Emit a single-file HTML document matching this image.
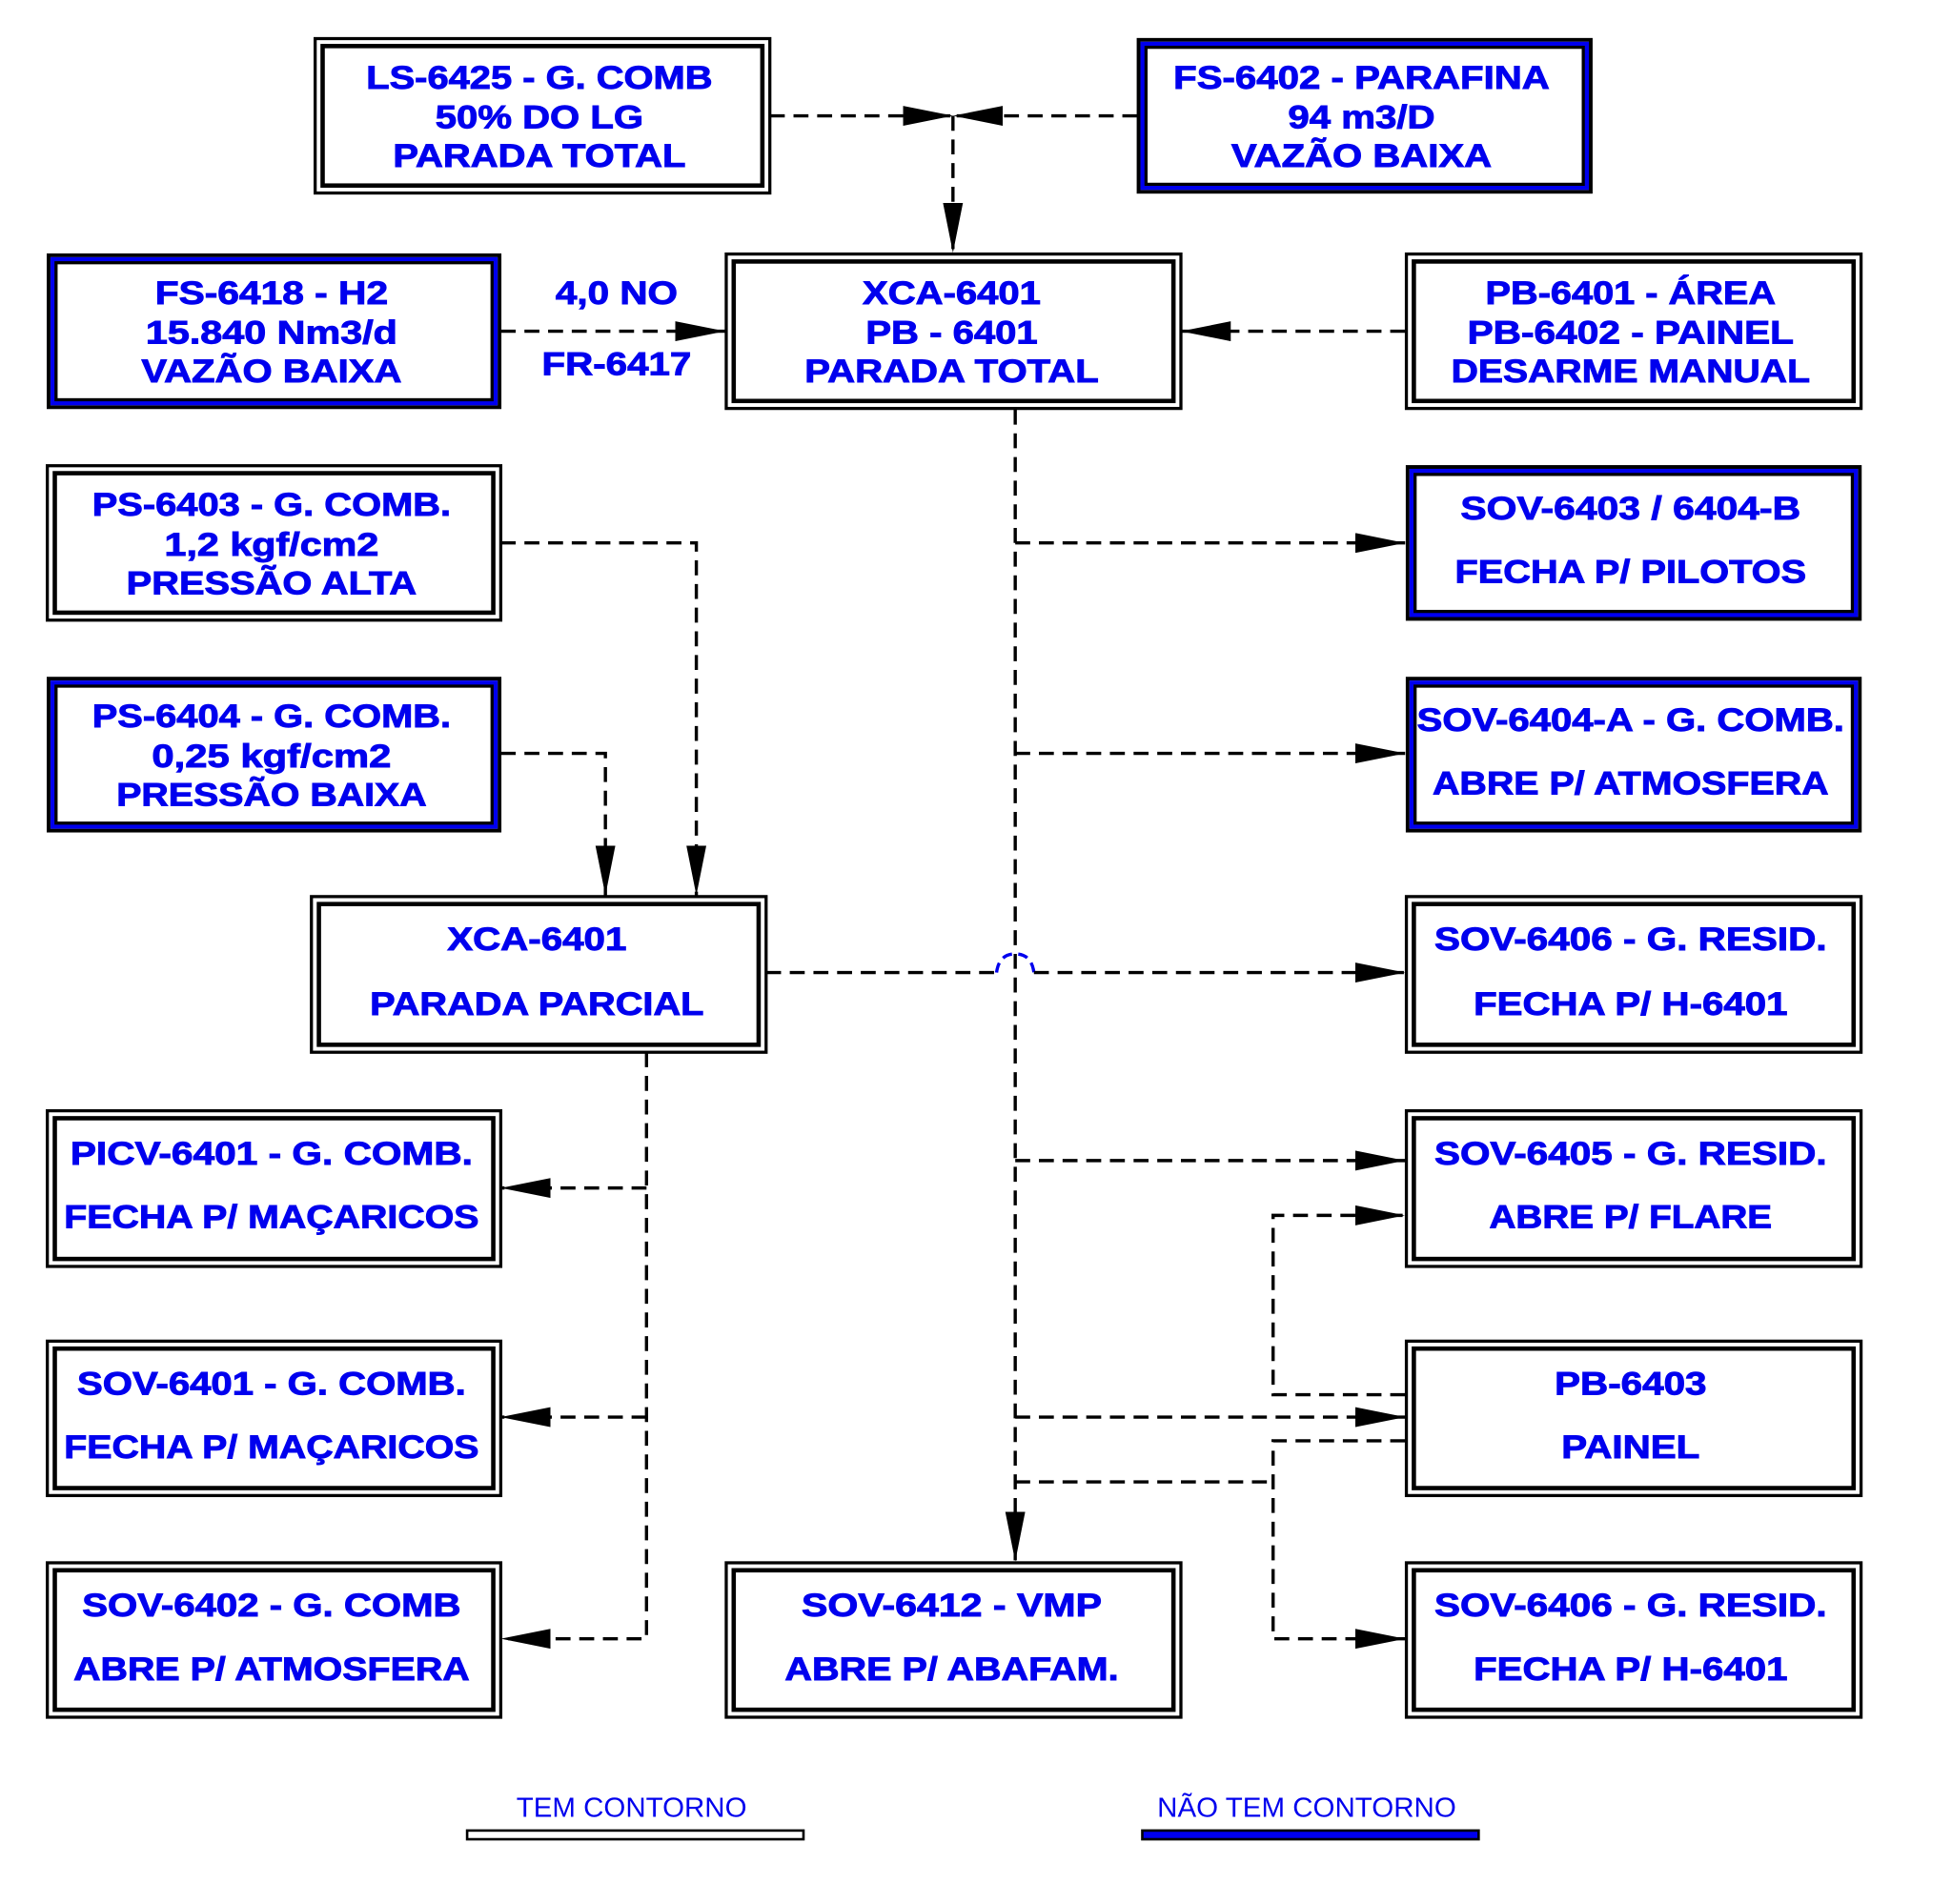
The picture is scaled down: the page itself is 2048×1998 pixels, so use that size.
<!DOCTYPE html>
<html><head><meta charset="utf-8"><style>
html,body{margin:0;padding:0;background:#fff;}
svg{display:block;}
text{font-family:"Liberation Sans",Arial,sans-serif;font-weight:bold;fill:#0000ee;stroke:#0000ee;stroke-width:0.7;font-size:26px;text-anchor:middle;}
.d{stroke:#000;stroke-width:2.6;fill:none;stroke-dasharray:12 7;}
</style></head><body>
<svg width="2048" height="1998" viewBox="0 0 1567 1529" preserveAspectRatio="none" xmlns="http://www.w3.org/2000/svg">
<defs>
<marker id="a" markerWidth="40" markerHeight="16" refX="40" refY="8" orient="auto" markerUnits="userSpaceOnUse"><path d="M0,0 L40,8 L0,16 Z" fill="#000"/></marker>
</defs>
<rect width="1567" height="1529" fill="#fff"/>
<g id="boxes" fill="none">
<g stroke="#000">
<rect x="253" y="31" width="365" height="124" stroke-width="2.5"/><rect x="259" y="37" width="353" height="112" stroke-width="3.5"/>
<rect x="583" y="204" width="365" height="124" stroke-width="2.5"/><rect x="589" y="210" width="353" height="112" stroke-width="3.5"/>
<rect x="1129" y="204" width="365" height="124" stroke-width="2.5"/><rect x="1135" y="210" width="353" height="112" stroke-width="3.5"/>
<rect x="38" y="374" width="364" height="124" stroke-width="2.5"/><rect x="44" y="380" width="352" height="112" stroke-width="3.5"/>
<rect x="250" y="720" width="365" height="125" stroke-width="2.5"/><rect x="256" y="726" width="353" height="113" stroke-width="3.5"/>
<rect x="1129" y="720" width="365" height="125" stroke-width="2.5"/><rect x="1135" y="726" width="353" height="113" stroke-width="3.5"/>
<rect x="38" y="892" width="364" height="125" stroke-width="2.5"/><rect x="44" y="898" width="352" height="113" stroke-width="3.5"/>
<rect x="1129" y="892" width="365" height="125" stroke-width="2.5"/><rect x="1135" y="898" width="353" height="113" stroke-width="3.5"/>
<rect x="38" y="1077" width="364" height="124" stroke-width="2.5"/><rect x="44" y="1083" width="352" height="112" stroke-width="3.5"/>
<rect x="1129" y="1077" width="365" height="124" stroke-width="2.5"/><rect x="1135" y="1083" width="353" height="112" stroke-width="3.5"/>
<rect x="38" y="1255" width="364" height="124" stroke-width="2.5"/><rect x="44" y="1261" width="352" height="112" stroke-width="3.5"/>
<rect x="583" y="1255" width="365" height="124" stroke-width="2.5"/><rect x="589" y="1261" width="353" height="112" stroke-width="3.5"/>
<rect x="1129" y="1255" width="365" height="124" stroke-width="2.5"/><rect x="1135" y="1261" width="353" height="112" stroke-width="3.5"/>
</g>
<g>
<rect x="914" y="32" width="363" height="122" stroke="#000" stroke-width="3"/><rect x="917.5" y="35.5" width="356" height="115" stroke="#0000ee" stroke-width="4"/><rect x="920" y="38" width="351" height="110" stroke="#000" stroke-width="2.5"/>
<rect x="39" y="205" width="362" height="122" stroke="#000" stroke-width="3"/><rect x="42.5" y="208.5" width="355" height="115" stroke="#0000ee" stroke-width="4"/><rect x="45" y="211" width="350" height="110" stroke="#000" stroke-width="2.5"/>
<rect x="1130" y="375" width="363" height="122" stroke="#000" stroke-width="3"/><rect x="1133.5" y="378.5" width="356" height="115" stroke="#0000ee" stroke-width="4"/><rect x="1136" y="381" width="351" height="110" stroke="#000" stroke-width="2.5"/>
<rect x="39" y="545" width="362" height="122" stroke="#000" stroke-width="3"/><rect x="42.5" y="548.5" width="355" height="115" stroke="#0000ee" stroke-width="4"/><rect x="45" y="551" width="350" height="110" stroke="#000" stroke-width="2.5"/>
<rect x="1130" y="545" width="363" height="122" stroke="#000" stroke-width="3"/><rect x="1133.5" y="548.5" width="356" height="115" stroke="#0000ee" stroke-width="4"/><rect x="1136" y="551" width="351" height="110" stroke="#000" stroke-width="2.5"/>
</g>
</g>
<g>
<text x="433" y="71" textLength="278" lengthAdjust="spacingAndGlyphs">LS-6425 - G. COMB</text>
<text x="433" y="103" textLength="167" lengthAdjust="spacingAndGlyphs">50% DO LG</text>
<text x="433" y="134" textLength="235" lengthAdjust="spacingAndGlyphs">PARADA TOTAL</text>
<text x="1093" y="71" textLength="302" lengthAdjust="spacingAndGlyphs">FS-6402 - PARAFINA</text>
<text x="1093" y="103" textLength="118" lengthAdjust="spacingAndGlyphs">94 m3/D</text>
<text x="1093" y="134" textLength="209" lengthAdjust="spacingAndGlyphs">VAZÃO BAIXA</text>
<text x="218" y="244" textLength="187" lengthAdjust="spacingAndGlyphs">FS-6418 - H2</text>
<text x="218" y="276" textLength="202" lengthAdjust="spacingAndGlyphs">15.840 Nm3/d</text>
<text x="218" y="307" textLength="209" lengthAdjust="spacingAndGlyphs">VAZÃO BAIXA</text>
<text x="495" y="244" textLength="98" lengthAdjust="spacingAndGlyphs">4,0 NO</text>
<text x="495" y="301" textLength="120" lengthAdjust="spacingAndGlyphs">FR-6417</text>
<text x="764" y="244" textLength="143" lengthAdjust="spacingAndGlyphs">XCA-6401</text>
<text x="764" y="276" textLength="138" lengthAdjust="spacingAndGlyphs">PB - 6401</text>
<text x="764" y="307" textLength="236" lengthAdjust="spacingAndGlyphs">PARADA TOTAL</text>
<text x="1309" y="244" textLength="233" lengthAdjust="spacingAndGlyphs">PB-6401 - ÁREA</text>
<text x="1309" y="276" textLength="262" lengthAdjust="spacingAndGlyphs">PB-6402 - PAINEL</text>
<text x="1309" y="307" textLength="288" lengthAdjust="spacingAndGlyphs">DESARME MANUAL</text>
<text x="218" y="414" textLength="288" lengthAdjust="spacingAndGlyphs">PS-6403 - G. COMB.</text>
<text x="218" y="446" textLength="172" lengthAdjust="spacingAndGlyphs">1,2 kgf/cm2</text>
<text x="218" y="477" textLength="233" lengthAdjust="spacingAndGlyphs">PRESSÃO ALTA</text>
<text x="1309" y="417" textLength="273" lengthAdjust="spacingAndGlyphs">SOV-6403 / 6404-B</text>
<text x="1309" y="468" textLength="282" lengthAdjust="spacingAndGlyphs">FECHA P/ PILOTOS</text>
<text x="218" y="584" textLength="288" lengthAdjust="spacingAndGlyphs">PS-6404 - G. COMB.</text>
<text x="218" y="616" textLength="192" lengthAdjust="spacingAndGlyphs">0,25 kgf/cm2</text>
<text x="218" y="647" textLength="249" lengthAdjust="spacingAndGlyphs">PRESSÃO BAIXA</text>
<text x="1309" y="587" textLength="343" lengthAdjust="spacingAndGlyphs">SOV-6404-A - G. COMB.</text>
<text x="1309" y="638" textLength="318" lengthAdjust="spacingAndGlyphs">ABRE P/ ATMOSFERA</text>
<text x="431" y="763" textLength="144" lengthAdjust="spacingAndGlyphs">XCA-6401</text>
<text x="431" y="815" textLength="268" lengthAdjust="spacingAndGlyphs">PARADA PARCIAL</text>
<text x="1309" y="763" textLength="315" lengthAdjust="spacingAndGlyphs">SOV-6406 - G. RESID.</text>
<text x="1309" y="815" textLength="252" lengthAdjust="spacingAndGlyphs">FECHA P/ H-6401</text>
<text x="218" y="935" textLength="323" lengthAdjust="spacingAndGlyphs">PICV-6401 - G. COMB.</text>
<text x="218" y="986" textLength="333" lengthAdjust="spacingAndGlyphs">FECHA P/ MAÇARICOS</text>
<text x="1309" y="935" textLength="315" lengthAdjust="spacingAndGlyphs">SOV-6405 - G. RESID.</text>
<text x="1309" y="986" textLength="227" lengthAdjust="spacingAndGlyphs">ABRE P/ FLARE</text>
<text x="218" y="1120" textLength="312" lengthAdjust="spacingAndGlyphs">SOV-6401 - G. COMB.</text>
<text x="218" y="1171" textLength="333" lengthAdjust="spacingAndGlyphs">FECHA P/ MAÇARICOS</text>
<text x="1309" y="1120" textLength="122" lengthAdjust="spacingAndGlyphs">PB-6403</text>
<text x="1309" y="1171" textLength="111" lengthAdjust="spacingAndGlyphs">PAINEL</text>
<text x="218" y="1298" textLength="304" lengthAdjust="spacingAndGlyphs">SOV-6402 - G. COMB</text>
<text x="218" y="1349" textLength="318" lengthAdjust="spacingAndGlyphs">ABRE P/ ATMOSFERA</text>
<text x="764" y="1298" textLength="241" lengthAdjust="spacingAndGlyphs">SOV-6412 - VMP</text>
<text x="764" y="1349" textLength="268" lengthAdjust="spacingAndGlyphs">ABRE P/ ABAFAM.</text>
<text x="1309" y="1298" textLength="315" lengthAdjust="spacingAndGlyphs">SOV-6406 - G. RESID.</text>
<text x="1309" y="1349" textLength="252" lengthAdjust="spacingAndGlyphs">FECHA P/ H-6401</text>
</g>
<path class="d" d="M618,93 H765" marker-end="url(#a)"/>
<path class="d" d="M913,93 H765" marker-end="url(#a)"/>
<path class="d" d="M765,93 V203" marker-end="url(#a)"/>
<path class="d" d="M402,266 H582" marker-end="url(#a)"/>
<path class="d" d="M1128,266 H948" marker-end="url(#a)"/>
<path class="d" d="M815,329 V1254" marker-end="url(#a)"/>
<path class="d" d="M815,436 H1128" marker-end="url(#a)"/>
<path class="d" d="M815,605 H1128" marker-end="url(#a)"/>
<path class="d" d="M615,781 H800"/>
<path d="M800,781 Q802,766 815,766 Q828,766 830,781" stroke="#0000ee" stroke-width="2.6" fill="none" stroke-dasharray="8 5"/>
<path class="d" d="M830,781 H1128" marker-end="url(#a)"/>
<path class="d" d="M815,932 H1128" marker-end="url(#a)"/>
<path class="d" d="M815,1138 H1128" marker-end="url(#a)"/>
<path class="d" d="M815,1190 H1022"/>
<path class="d" d="M1128,1120 H1022 V976 H1128" marker-end="url(#a)"/>
<path class="d" d="M1128,1157 H1022 V1316 H1128" marker-end="url(#a)"/>
<path class="d" d="M402,436 H559 V719" marker-end="url(#a)"/>
<path class="d" d="M402,605 H486 V719" marker-end="url(#a)"/>
<path class="d" d="M519,845 V1316 H402" marker-end="url(#a)"/>
<path class="d" d="M519,954 H402" marker-end="url(#a)"/>
<path class="d" d="M519,1138 H402" marker-end="url(#a)"/>
<text x="507" y="1459" textLength="185" lengthAdjust="spacingAndGlyphs" style="font-weight:normal;font-size:22px;stroke-width:0">TEM CONTORNO</text>
<rect x="375" y="1470" width="270" height="7" fill="#fff" stroke="#000" stroke-width="2"/>
<text x="1049" y="1459" textLength="240" lengthAdjust="spacingAndGlyphs" style="font-weight:normal;font-size:22px;stroke-width:0">NÃO TEM CONTORNO</text>
<rect x="917" y="1470" width="270" height="7" fill="#0000ee" stroke="#000" stroke-width="2"/>
</svg>
</body></html>
